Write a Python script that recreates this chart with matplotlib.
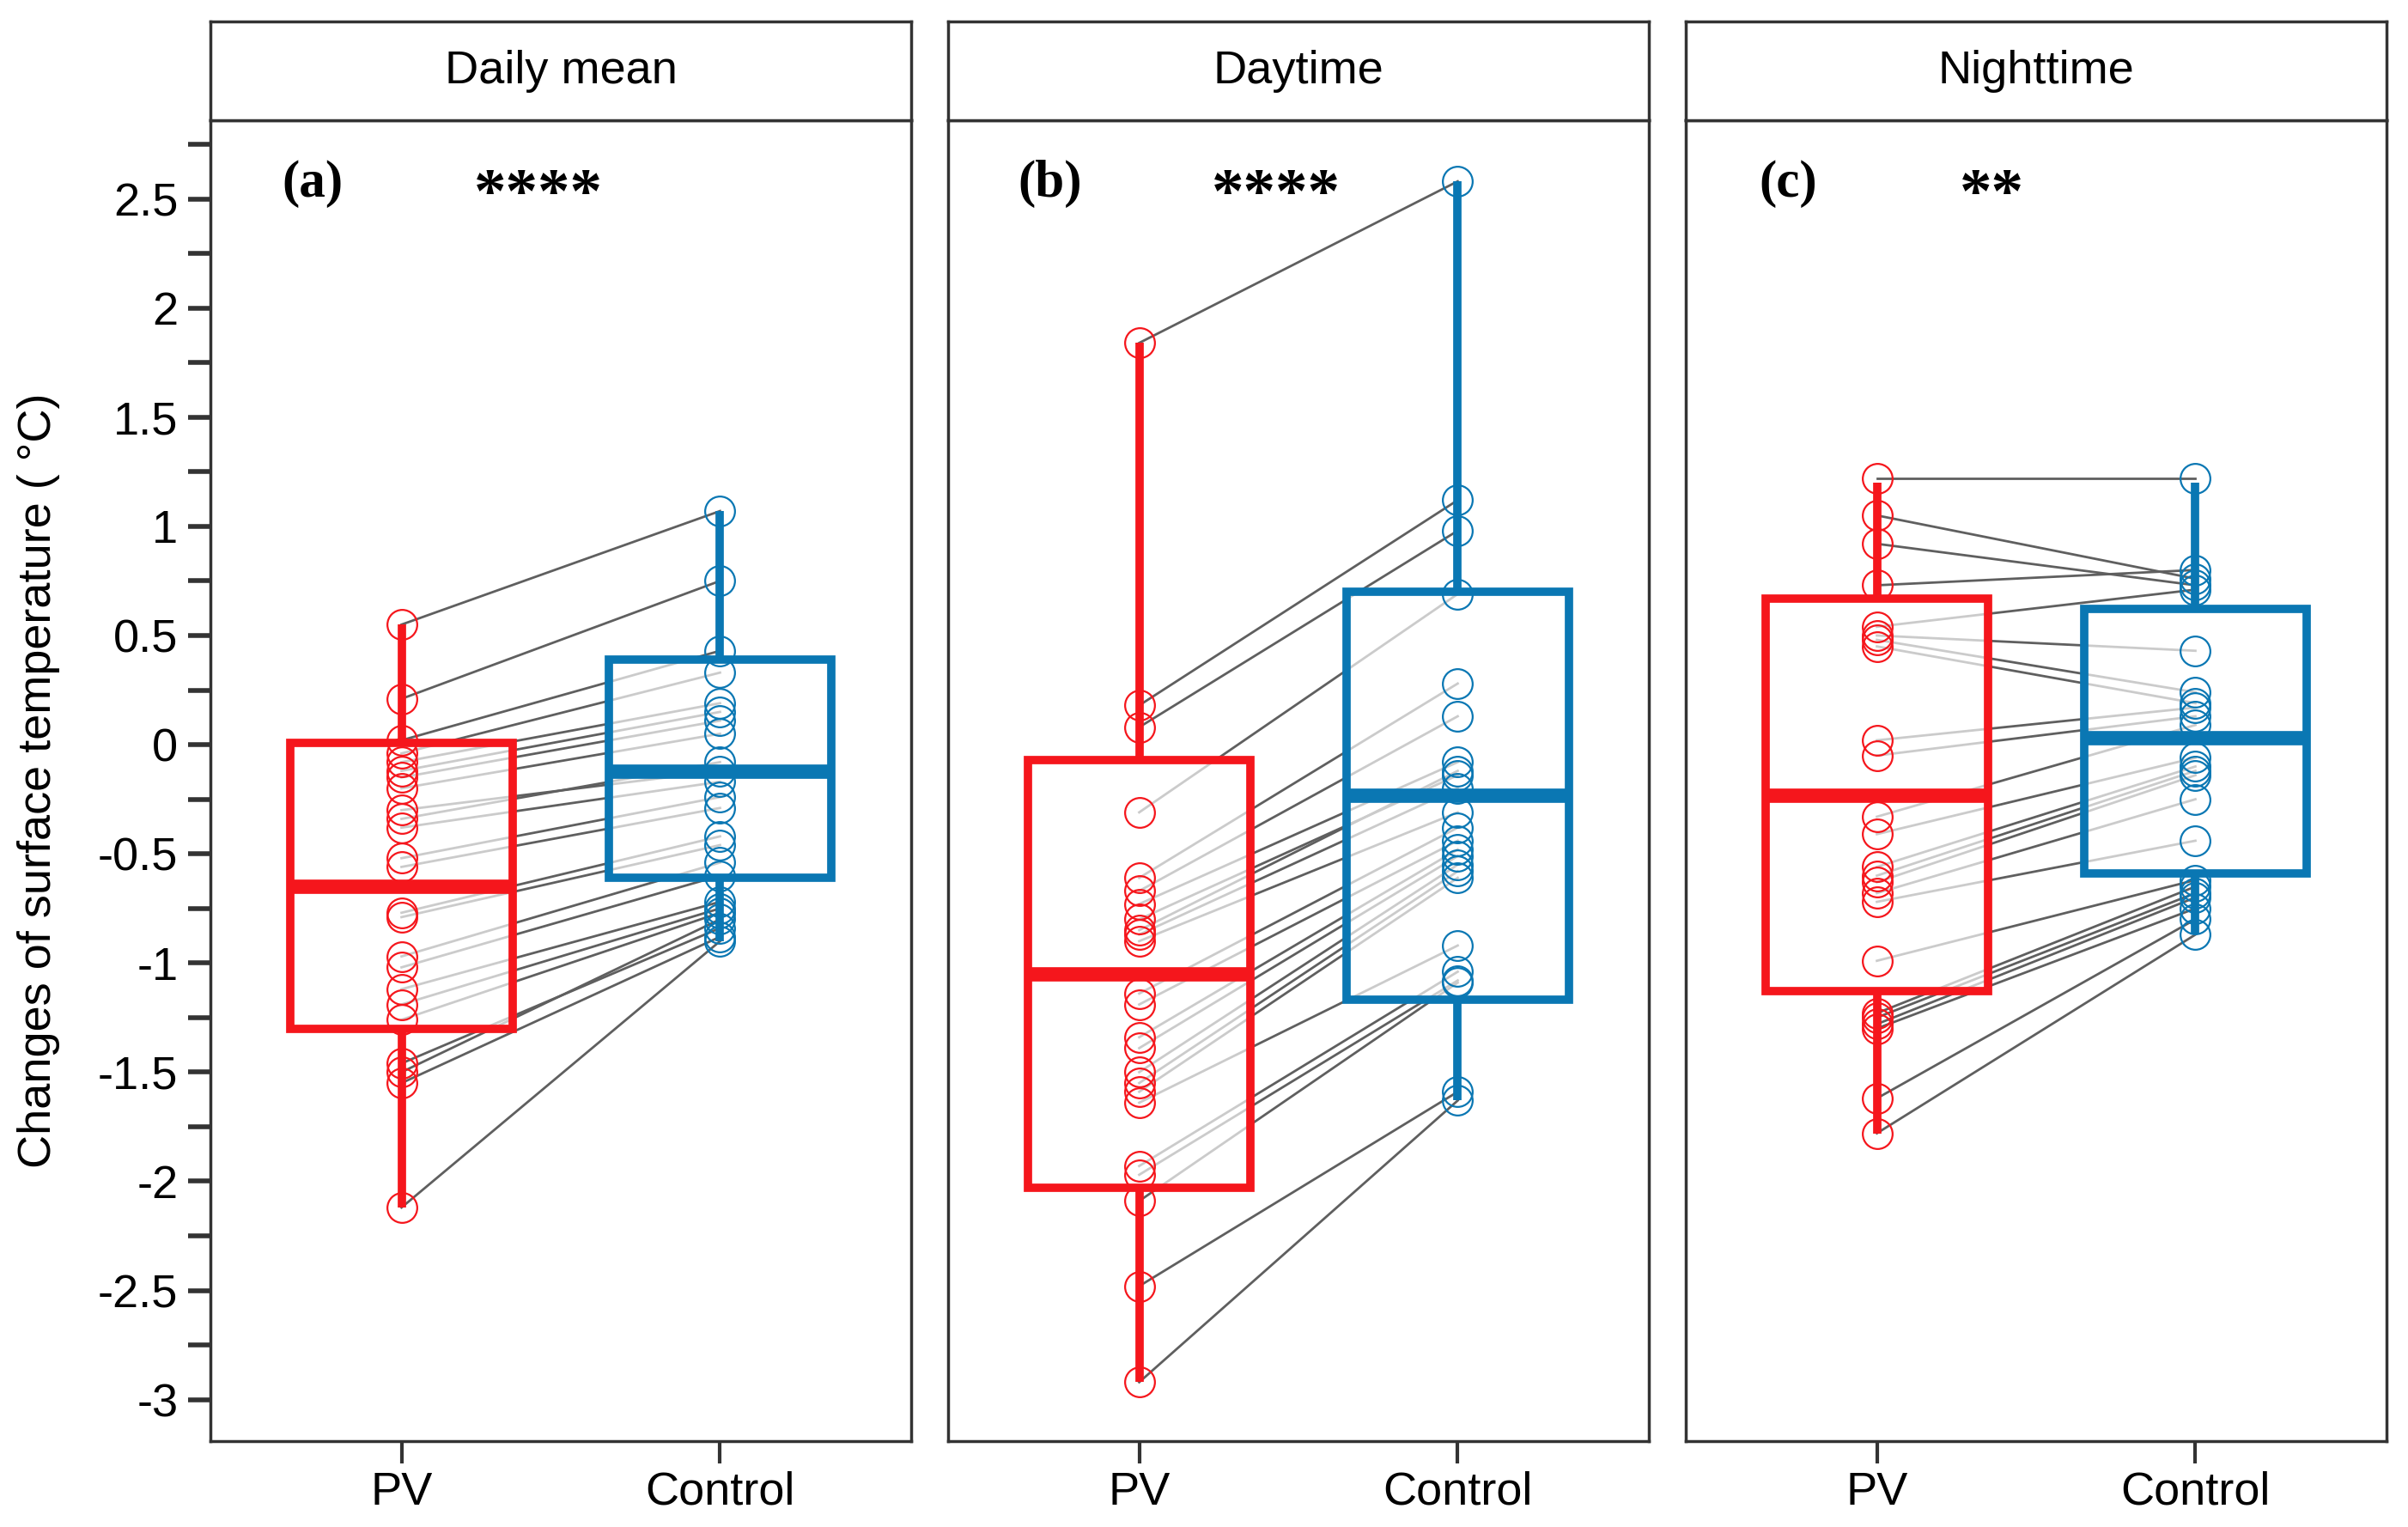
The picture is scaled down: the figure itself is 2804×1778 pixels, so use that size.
import numpy as np
import matplotlib.pyplot as plt
from matplotlib.ticker import MultipleLocator, FuncFormatter

plt.rcParams['font.family'] = ['Liberation Sans', 'DejaVu Sans']
plt.rcParams['axes.unicode_minus'] = False

# -----------------------------------------------------
#  Data (paired by index)
# -----------------------------------------------------
groups = ["PV", "Control"]
panel_titles = ["Daily mean", "Daytime", "Nighttime"]
panel_tags = ["(a)", "(b)", "(c)"]
signif = ["****", "****", "**"]

daily_pv = [0.55, 0.21, 0.02, -0.04, -0.08, -0.12, -0.15, -0.20, -0.30, -0.34, -0.38, -0.52,
            -0.56, -0.77, -0.79, -0.97, -1.02, -1.12, -1.19, -1.26, -1.46, -1.50, -1.55, -2.12]
daily_ctrl = [1.07, 0.75, 0.43, 0.33, 0.19, 0.15, 0.11, 0.05, -0.12, -0.08, -0.17, -0.24,
              -0.29, -0.42, -0.46, -0.54, -0.60, -0.72, -0.75, -0.77, -0.84, -0.80, -0.88, -0.90]

day_pv = [1.84, 0.18, 0.08, -0.31, -0.61, -0.67, -0.73, -0.80, -0.85, -0.87, -0.90, -1.14,
          -1.19, -1.34, -1.39, -1.50, -1.55, -1.59, -1.64, -1.93, -1.97, -2.09, -2.48, -2.92]
day_ctrl = [2.58, 1.12, 0.98, 0.69, 0.28, 0.13, -0.08, -0.14, -0.12, -0.20, -0.31, -0.38,
            -0.44, -0.48, -0.51, -0.55, -0.58, -0.61, -0.92, -1.04, -1.08, -1.09, -1.59, -1.63]

night_pv = [1.22, 1.05, 0.92, 0.73, 0.54, 0.50, 0.48, 0.45, 0.02, -0.05, -0.33, -0.41,
            -0.56, -0.60, -0.63, -0.68, -0.72, -0.99, -1.23, -1.25, -1.28, -1.30, -1.62, -1.78]
night_ctrl = [1.22, 0.76, 0.73, 0.80, 0.71, 0.43, 0.24, 0.19, 0.17, 0.13, 0.09, -0.06,
              -0.10, -0.12, -0.14, -0.25, -0.44, -0.62, -0.65, -0.68, -0.70, -0.75, -0.80, -0.87]

# box statistics: q1, median, q3, lower whisker, upper whisker
daily_pv_box = [-1.30, -0.65, 0.01, -2.12, 0.55]
daily_ctrl_box = [-0.61, -0.12, 0.39, -0.90, 1.07]
day_pv_box = [-2.03, -1.05, -0.07, -2.92, 1.84]
day_ctrl_box = [-1.17, -0.23, 0.70, -1.63, 2.58]
night_pv_box = [-1.13, -0.23, 0.67, -1.78, 1.20]
night_ctrl_box = [-0.59, 0.03, 0.62, -0.87, 1.20]

pv_values = [daily_pv, day_pv, night_pv]
ctrl_values = [daily_ctrl, day_ctrl, night_ctrl]
pv_boxes = [daily_pv_box, day_pv_box, night_pv_box]
ctrl_boxes = [daily_ctrl_box, day_ctrl_box, night_ctrl_box]

y_ticks = [2.5, 2, 1.5, 1, 0.5, 0, -0.5, -1, -1.5, -2, -2.5, -3]

# -----------------------------------------------------
#  Style
# -----------------------------------------------------
red = "#F5161C"
blue = "#0A77B3"
colors = [red, blue]
frame = "#333333"

W, H = 2804, 1778
fig = plt.figure(figsize=(W / 100, H / 100), dpi=100)

panel_left = [245, 1104, 1963]
panel_w = 816
ax_top, ax_bot = 140, 1678
strip_top = 25


def to_stats(b):
    return dict(q1=b[0], med=b[1], q3=b[2], whislo=b[3], whishi=b[4], fliers=[])


for k in range(3):
    ax = fig.add_axes([panel_left[k] / W, (H - ax_bot) / H, panel_w / W, (ax_bot - ax_top) / H])
    sax = fig.add_axes([panel_left[k] / W, (H - ax_top) / H, panel_w / W, (ax_top - strip_top) / H])

    pv = np.array(pv_values[k])
    ct = np.array(ctrl_values[k])

    # paired lines
    for a, b in zip(pv, ct):
        ax.plot([1, 2], [a, b], color="#5f5f5f", lw=2.0, zorder=1)

    # boxes
    for i, b in enumerate([pv_boxes[k], ctrl_boxes[k]]):
        c = colors[i]
        ax.bxp([to_stats(b)], positions=[i + 1], widths=0.7, patch_artist=True,
               showcaps=False, showfliers=False,
               boxprops=dict(facecolor=(1, 1, 1, 0.68), edgecolor=c, linewidth=7),
               medianprops=dict(color=c, linewidth=12, solid_capstyle="butt"),
               whiskerprops=dict(color=c, linewidth=7, solid_capstyle="butt"),
               zorder=2)

    # points
    ax.plot(np.ones(len(pv)), pv, 'o', ms=25, mfc='none', mec=red, mew=1.6, zorder=3)
    ax.plot(np.full(len(ct), 2), ct, 'o', ms=25, mfc='none', mec=blue, mew=1.6, zorder=3)

    ax.set_xlim(0.4, 2.6)
    ax.set_ylim(-3.19, 2.86)
    ax.set_xticks([1, 2])
    ax.set_xticklabels(groups, fontsize=39)
    ax.tick_params(axis='x', length=19, width=3, color=frame, pad=6)

    if k == 0:
        ax.set_yticks(y_ticks)
        ax.yaxis.set_major_formatter(FuncFormatter(lambda v, p: f"{v:g}"))
        ax.yaxis.set_minor_locator(MultipleLocator(0.25))
        ax.tick_params(axis='y', which='both', length=19, width=4, color=frame, labelsize=39, pad=8)
        ax.set_ylabel("Changes of surface temperature ( \u00b0C)", fontsize=39)
        ax.yaxis.set_label_coords(-0.215, 0.5)
    else:
        ax.set_yticks([])
        ax.tick_params(axis='y', which='both', left=False)

    for s in ax.spines.values():
        s.set_color(frame)
        s.set_linewidth(2.5)

    ax.text(0.72, 2.57, panel_tags[k], family="Liberation Serif", fontweight="bold",
            fontsize=44, ha='center', va='center')
    ax.text(1.43 if k < 2 else 1.36, 2.51, signif[k], family="Liberation Serif",
            fontweight="bold", fontsize=54, ha='center', va='center')

    # strip header
    sax.set_xticks([])
    sax.set_yticks([])
    for s in sax.spines.values():
        s.set_color(frame)
        s.set_linewidth(2.5)
    sax.text(0.5, 0.5, panel_titles[k], fontsize=39, ha='center', va='center',
             transform=sax.transAxes)

fig.savefig("out.png", dpi=100)
